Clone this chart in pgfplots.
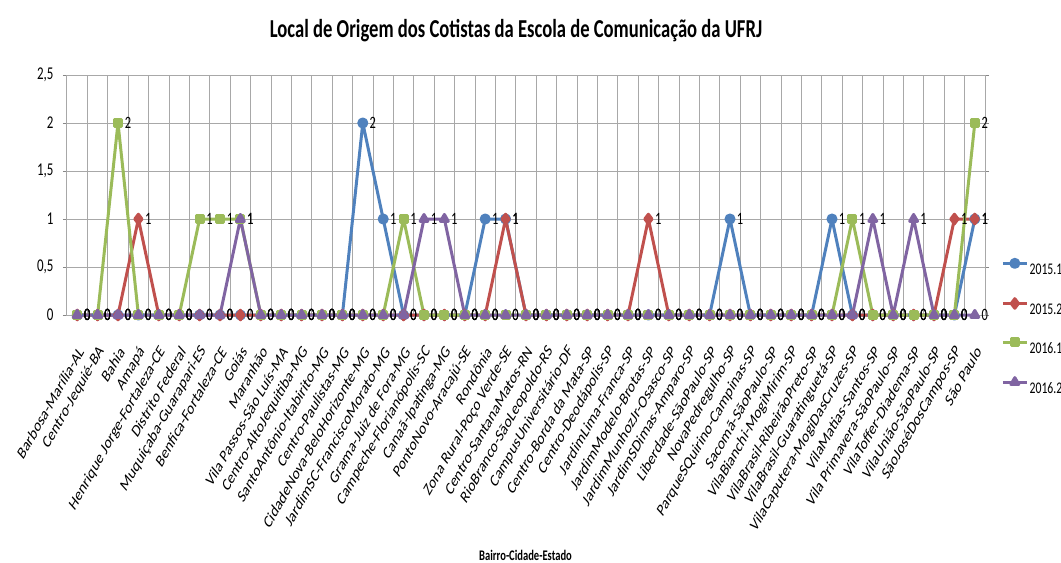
\documentclass[border=0pt]{standalone}
\usepackage{fontspec}
\setmainfont{Carlito}[FakeStretch=0.72]
\newfontfamily\rawfont{Carlito}
\usepackage{pgfplots}
\pgfplotsset{compat=1.18}
\usepackage{pgfplotstable}
\definecolor{serA}{HTML}{4F81BD}
\definecolor{serB}{HTML}{C0504D}
\definecolor{serC}{HTML}{9BBB59}
\definecolor{serD}{HTML}{8064A2}
\definecolor{gridgray}{HTML}{A8A8A8}
\definecolor{axgray}{HTML}{868686}

% x = category index, a = 2015.1, b = 2015.2, c = 2016.1, d = 2016.2
\pgfplotstableread{
x a b c d
1 0 0 0 0
2 0 0 0 0
3 0 0 2 0
4 0 1 0 0
5 0 0 0 0
6 0 0 0 0
7 0 0 1 0
8 0 0 1 0
9 0 0 1 1
10 0 0 0 0
11 0 0 0 0
12 0 0 0 0
13 0 0 0 0
14 0 0 0 0
15 2 0 0 0
16 1 0 0 0
17 0 0 1 0
18 0 0 0 1
19 0 0 0 1
20 0 0 0 0
21 1 0 0 0
22 1 1 0 0
23 0 0 0 0
24 0 0 0 0
25 0 0 0 0
26 0 0 0 0
27 0 0 0 0
28 0 0 0 0
29 0 1 0 0
30 0 0 0 0
31 0 0 0 0
32 0 0 0 0
33 1 0 0 0
34 0 0 0 0
35 0 0 0 0
36 0 0 0 0
37 0 0 0 0
38 1 0 0 0
39 0 0 1 0
40 0 0 0 1
41 0 0 0 0
42 0 0 0 1
43 0 0 0 0
44 0 1 0 0
45 1 1 2 0
}\origem

\begin{document}
\begin{tikzpicture}
\begin{axis}[
  at={(0,0)}, anchor=south west,
  scale only axis, width=688.5pt, height=180pt,
  xmin=0.5, xmax=45.5, ymin=0, ymax=2.5,
  clip=false,
  /pgf/number format/assume math mode=true,
  xtick={1,...,45},
  xticklabels={Barbosa-Marília-AL,Centro-Jequié-BA,Bahia,Amapá,Henrique Jorge-Fortaleza-CE,Distrito Federal,Muquiçaba-Guarapari-ES,Benfica-Fortaleza-CE,Goiás,Maranhão,Vila Passos-São Luís-MA,Centro-AltoJequitiba-MG,SantoAntônio-Itabirito-MG,Centro-Paulistas-MG,CidadeNova-BeloHorizonte-MG,JardimSC-FranciscoMorato-MG,Grama-Juiz de Fora-MG,Campeche-Florianópolis-SC,Canaã-Ipatinga-MG,PontoNovo-Aracajú-SE,Rondônia,Zona Rural-Poço Verde-SE,Centro-SantanaMatos-RN,RioBranco-SãoLeopoldo-RS,CampusUniversitário-DF,Centro-Borda da Mata-SP,Centro-Deodápolis-SP,JardimLima-Franca-SP,JardimModelo-Brotas-SP,JardimMunhozJr-Osasco-SP,JardimSDimas-Amparo-SP,Liberdade-SãoPaulo-SP,NovaPedregulho-SP,ParqueSQuirino-Campinas-SP,Sacomã-SãoPaulo-SP,VilaBianchi-MogiMirim-SP,VilaBrasil-RibeirãoPreto-SP,VilaBrasil-Guaratinguetá-SP,VilaCaputera-MogiDasCruzes-SP,VilaMatias-Santos-SP,Vila Primavera-SãoPaulo-SP,VilaToffer-Diadema-SP,VilaUnião-SãoPaulo-SP,SãoJoséDosCampos-SP,São Paulo},
  minor x tick num=1,
  xtick style={draw=none},
  ytick={0,0.5,1,1.5,2,2.5},
  yticklabels={0,{0,5},1,{1,5},2,{2,5}},
  ytick style={axgray, line width=0.75pt},
  tick align=outside, major tick length=3pt,
  xminorgrids=true, ymajorgrids=true,
  grid style={gridgray, line width=0.75pt},
  minor grid style={gridgray, line width=0.75pt},
  axis line style={gridgray, line width=0.75pt},
  xticklabel style={font=\rawfont\fontsize{13.3}{14}\selectfont, inner sep=0pt,
    anchor=east, xshift=3pt, yshift=-22pt, xscale=0.72, rotate=51.7},
  yticklabel style={font=\fontsize{13.5}{14}\selectfont, inner sep=0pt, anchor=east, xshift=-7pt},
  nodes near coords,
  every node near coord/.append style={font=\fontsize{13}{14}\selectfont, anchor=west,
    inner sep=0pt, xshift=4pt, text=black},
  every axis plot/.append style={line width=2.25pt, line join=round},
  legend style={at={(1.0175,0.233)}, anchor=north west, draw=none, fill=none,
    inner sep=0pt, row sep=18pt, font=\fontsize{12.2}{14}\selectfont,
    nodes={inner sep=0pt, text height=9pt, text depth=0pt},
    /tikz/every odd column/.append style={column sep=1pt}},
  legend cell align=left,
  legend image code/.code={\draw[mark repeat=2,mark phase=2,#1]
    plot coordinates {(0pt,4pt) (9pt,4pt) (18pt,4pt)};},
]
\addplot[serA, mark=*, mark size=3pt, mark options={solid}] table[x=x,y=a]{\origem};
\addlegendentry{2015.1}
\addplot[serB, mark=diamond*, mark size=3.6pt, mark options={solid}] table[x=x,y=b]{\origem};
\addlegendentry{2015.2}
\addplot[serC, mark=square*, mark size=2.6pt, mark options={solid}] table[x=x,y=c]{\origem};
\addlegendentry{2016.1}
\addplot[serD, mark=triangle*, mark size=3.4pt, mark options={solid}] table[x=x,y=d]{\origem};
\addlegendentry{2016.2}
\end{axis}
\node[font=\bfseries\fontsize{19.4}{20}\selectfont, anchor=base] at (336.75pt,208.5pt)
  {Local de Origem dos Cotistas da Escola de Comunicação da UFRJ};
\node[font=\bfseries\fontsize{11}{12}\selectfont, anchor=base] at (343.9pt,-183.75pt)
  {Bairro-Cidade-Estado};
\pgfresetboundingbox
\path[use as bounding box] (-50.25pt,-185.25pt) rectangle (745.5pt,236.25pt);
\end{tikzpicture}
\end{document}
